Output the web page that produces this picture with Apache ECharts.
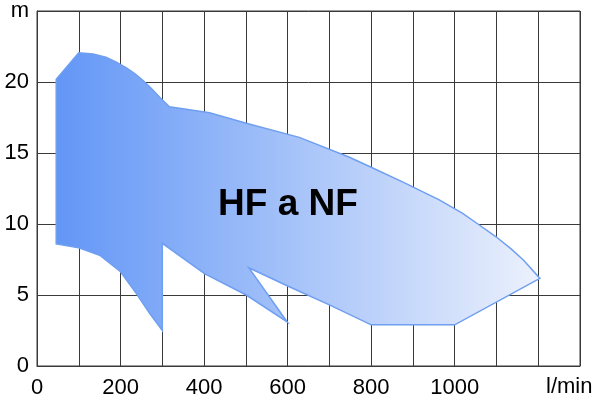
<!DOCTYPE html>
<html>
<head>
<meta charset="utf-8">
<script src="https://cdn.jsdelivr.net/npm/echarts@6/dist/echarts.min.js"></script>
<style>
  html, body { margin: 0; padding: 0; background: #fff; }
  #chart { width: 600px; height: 399px; }
</style>
</head>
<body>
<div id="chart"></div>
<script>
  // pump operating range outline, clockwise from the lower-left corner
  var flow = [46, 46, 100, 134, 165, 190, 214, 234, 254, 275, 296, 317, 413, 501, 628, 748, 800, 880, 963, 1019, 1059, 1099, 1135, 1165, 1204,
              1000, 800, 700, 600, 507, 599, 501, 401, 300, 300, 270, 238, 200, 150, 100];
  var head = [8.6, 20.2, 22.06, 21.97, 21.75, 21.4, 21.0, 20.6, 20.1, 19.5, 18.85, 18.26, 17.84, 17.1, 16.1, 14.7, 14.0, 12.9, 11.7, 10.75, 9.93, 9.1, 8.25, 7.45, 6.17,
              2.9, 2.9, 4.3, 5.63, 6.92, 3.1, 5.0, 6.5, 8.64, 2.5, 3.7, 5.1, 6.64, 7.8, 8.33];

  var xTicks = [0, 200, 400, 600, 800, 1000];
  var yTicks = [0, 5, 10, 15, 20];
  var areaLabel = "HF a NF";

  var FONT = "Liberation Sans, Arial, sans-serif";
  var GRID_COLOR = "#3a3a3a";

  var chart = echarts.init(document.getElementById("chart"));

  var points = flow.map(function (f, i) { return [f, head[i]]; });

  chart.setOption({
    animation: false,
    grid: { left: 37, right: 20, top: 11, bottom: 33, show: true, borderColor: GRID_COLOR, borderWidth: 1 },
    xAxis: {
      type: "value", min: 0, max: 1300, interval: 100,
      axisLine: { show: true, lineStyle: { color: GRID_COLOR } },
      axisTick: { show: false },
      splitLine: { show: true, lineStyle: { color: GRID_COLOR, width: 1 } },
      axisLabel: {
        margin: 11, fontSize: 22, color: "#000", fontFamily: FONT,
        formatter: function (v) { return xTicks.indexOf(v) >= 0 ? String(v) : ""; }
      }
    },
    yAxis: {
      type: "value", min: 0, max: 25, interval: 5,
      axisLine: { show: true, lineStyle: { color: GRID_COLOR } },
      axisTick: { show: false },
      splitLine: { show: true, lineStyle: { color: GRID_COLOR, width: 1 } },
      axisLabel: {
        margin: 8, fontSize: 22, color: "#000", fontFamily: FONT,
        formatter: function (v) { return yTicks.indexOf(v) >= 0 ? String(v) : (v === 25 ? "m" : ""); }
      }
    },
    graphic: [{
      type: "text", left: 546, top: 376, z: 10,
      style: { text: "l/min", fontSize: 22, fill: "#000", fontFamily: FONT }
    }, {
      type: "text", x: 288, y: 205, z: 10,
      style: { text: areaLabel, fontSize: 37, fontWeight: "bold", fill: "#000", fontFamily: FONT,
               align: "center", verticalAlign: "middle" }
    }],
    series: [{
      type: "custom",
      data: points,
      renderItem: function (params, api) {
        if (params.dataIndex !== 0) return null;
        var pts = points.map(function (p) { return api.coord(p); });
        return {
          type: "polygon",
          shape: { points: pts },
          style: {
            fill: new echarts.graphic.LinearGradient(0, 0, 1, 0, [
              { offset: 0, color: "#6296f6" },
              { offset: 1, color: "#ecf1fc" }
            ]),
            stroke: "#6f9ff0",
            lineWidth: 1.5
          }
        };
      }
    }]
  });
</script>
</body>
</html>
